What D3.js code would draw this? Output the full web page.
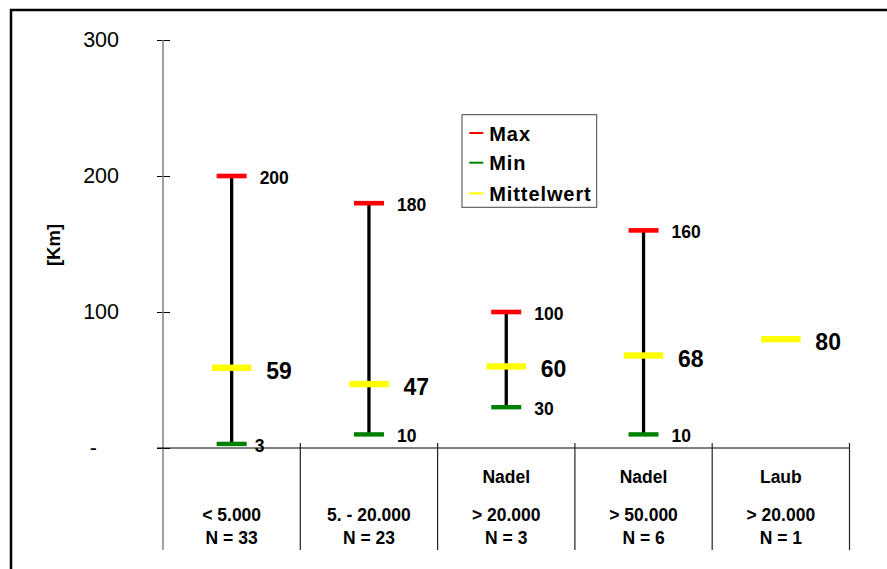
<!DOCTYPE html>
<html><head><meta charset="utf-8">
<script src="https://cdn.jsdelivr.net/npm/d3@7"></script>
<style>
html,body{margin:0;padding:0;background:#fff;overflow:hidden;}
text{font-family:"Liberation Sans",Arial,sans-serif;}
</style></head>
<body><svg id="c" width="887" height="569"></svg>
<script>
const sizeLabels = ["< 5.000", "5. - 20.000", "> 20.000", "> 50.000", "> 20.000"];
const typeLabels = ["", "", "Nadel", "Nadel", "Laub"];
const nValues = [33, 23, 3, 6, 1];
const maxValues = [200, 180, 100, 160, null];
const minValues = [3, 10, 30, 10, null];
const meanValues = [59, 47, 60, 68, 80];
const yTicks = [0, 100, 200, 300];
const legendItems = ["Max", "Min", "Mittelwert"];
const legendColors = ["#ff0000", "#008000", "#ffff00"];

const svg = d3.select("#c");
// outer frame
svg.append("rect").attr("x", 11).attr("y", 10).attr("width", 900).attr("height", 600)
  .attr("fill", "none").attr("stroke", "#000").attr("stroke-width", 2.5);

const idx = sizeLabels.map((d, i) => i);
const x = d3.scaleBand().domain(idx).range([163, 849.5]).padding(0);
const y = d3.scaleLinear().domain([0, 300]).range([448, 40]);
const cx = i => x(i) + x.bandwidth() / 2;

// y axis
const yAxis = d3.axisLeft(y).tickValues(yTicks).tickFormat(d => d === 0 ? "-" : d).tickSize(6).tickPadding(38);
const ga = svg.append("g").attr("transform", "translate(163,0)").call(yAxis);
ga.select(".domain").remove();
ga.selectAll(".tick line").attr("x1", -6).attr("x2", 7).attr("stroke", "#000").attr("stroke-width", 1);
ga.selectAll(".tick text").attr("font-size", 21.5).attr("fill", "#000")
  .attr("font-family", "'Liberation Sans',Arial,sans-serif")
  .attr("dx", d => d === 0 ? -22 : 0);
// y axis line
svg.append("line").attr("x1", 163).attr("x2", 163).attr("y1", y(300)).attr("y2", 550)
  .attr("stroke", "#808080").attr("stroke-width", 1.5);
// x axis line
svg.append("line").attr("x1", 157).attr("x2", 849.5).attr("y1", y(0)).attr("y2", y(0))
  .attr("stroke", "#000").attr("stroke-width", 1);
// category dividers
svg.selectAll("line.div").data(idx).enter().append("line").attr("class", "div")
  .attr("x1", i => x(i) + x.bandwidth()).attr("x2", i => x(i) + x.bandwidth())
  .attr("y1", 443).attr("y2", 550).attr("stroke", "#222").attr("stroke-width", 1.2);

// y title
svg.append("text").attr("transform", "translate(60,245) rotate(-90)")
  .attr("text-anchor", "middle").attr("font-size", 18.5).attr("font-weight", "bold").text("[Km]");

// category labels
const cat = svg.append("g");
cat.selectAll("text.t").data(idx).enter().append("text").attr("class", "t")
  .attr("x", cx).attr("y", 483).attr("text-anchor", "middle").attr("font-size", 17.5).attr("font-weight", "bold")
  .text(i => typeLabels[i]);
cat.selectAll("text.s").data(idx).enter().append("text").attr("class", "s")
  .attr("x", cx).attr("y", 521).attr("text-anchor", "middle").attr("font-size", 17.5).attr("font-weight", "bold")
  .text(i => sizeLabels[i]);
cat.selectAll("text.n").data(idx).enter().append("text").attr("class", "n")
  .attr("x", cx).attr("y", 544).attr("text-anchor", "middle").attr("font-size", 17.5).attr("font-weight", "bold")
  .text(i => "N = " + nValues[i]);

// error bars
const withRange = idx.filter(i => maxValues[i] != null);
svg.selectAll("line.rng").data(withRange).enter().append("line").attr("class", "rng")
  .attr("x1", cx).attr("x2", cx).attr("y1", i => y(maxValues[i])).attr("y2", i => y(minValues[i]))
  .attr("stroke", "#000").attr("stroke-width", 3.3);
svg.selectAll("rect.max").data(withRange).enter().append("rect").attr("class", "max")
  .attr("x", i => cx(i) - 15).attr("width", 30).attr("y", i => y(maxValues[i]) - 2.3).attr("height", 4.6)
  .attr("fill", legendColors[0]);
svg.selectAll("rect.min").data(withRange).enter().append("rect").attr("class", "min")
  .attr("x", i => cx(i) - 15).attr("width", 30).attr("y", i => y(minValues[i]) - 2.2).attr("height", 4.4)
  .attr("fill", legendColors[1]);
svg.selectAll("rect.mean").data(idx).enter().append("rect").attr("class", "mean")
  .attr("x", i => cx(i) - 19.7).attr("width", 39.4).attr("y", i => y(meanValues[i]) - 3.2).attr("height", 6.4)
  .attr("fill", legendColors[2]);

// value labels
svg.selectAll("text.maxl").data(withRange).enter().append("text").attr("class", "maxl")
  .attr("x", i => cx(i) + 28).attr("y", i => y(maxValues[i]) + 7.5)
  .attr("font-size", 17.5).attr("font-weight", "bold").text(i => maxValues[i]);
svg.selectAll("text.minl").data(withRange).enter().append("text").attr("class", "minl")
  .attr("x", i => cx(i) + (minValues[i] < 10 ? 23 : 28)).attr("y", i => y(minValues[i]) + 8)
  .attr("font-size", 17.5).attr("font-weight", "bold").text(i => minValues[i]);
svg.selectAll("text.meanl").data(idx).enter().append("text").attr("class", "meanl")
  .attr("x", i => cx(i) + 34.5).attr("y", i => y(meanValues[i]) + 11)
  .attr("font-size", 23).attr("font-weight", "bold").text(i => meanValues[i]);

// legend
const lg = svg.append("g");
lg.append("rect").attr("x", 462).attr("y", 114.7).attr("width", 134.7).attr("height", 92.6)
  .attr("fill", "#fff").attr("stroke", "#444").attr("stroke-width", 1);
const rows = lg.selectAll("g.row").data(legendItems).enter().append("g").attr("class", "row")
  .attr("transform", (d, i) => `translate(0,${[133, 162.7, 193.3][i]})`);
rows.append("line").attr("x1", 469.3).attr("x2", 483.3).attr("y1", 0).attr("y2", 0)
  .attr("stroke", (d, i) => legendColors[i]).attr("stroke-width", 2);
rows.append("text").attr("x", 489.3).attr("y", 7.5).attr("font-size", 20).attr("font-weight", "bold")
  .attr("letter-spacing", 0.9).text(d => d);
</script></body></html>
